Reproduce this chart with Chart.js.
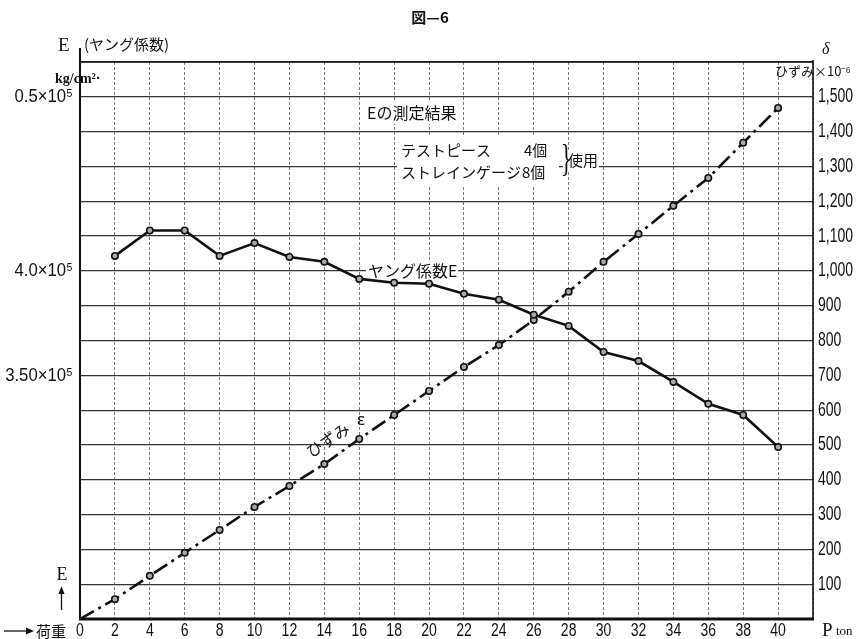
<!DOCTYPE html>
<html>
<head>
<meta charset="utf-8">
<script src="https://cdn.jsdelivr.net/npm/chart.js@4.4.1/dist/chart.umd.min.js"></script>
<style>
  html, body { margin: 0; padding: 0; background: #fff; }
  #wrap { width: 861px; height: 639px; position: relative; }
</style>
</head>
<body>
<div id="wrap"><canvas id="c" width="861" height="639"></canvas></div>
<script>
// Load P (ton)
const loadTon = [0, 2, 4, 6, 8, 10, 12, 14, 16, 18, 20, 22, 24, 26, 28, 30, 32, 34, 36, 38, 40];
// Young's modulus E (×10^5 kg/cm²), measured from 2 ton upward
const youngModulus = [null, 4.043, 4.116, 4.116, 4.043, 4.080, 4.040, 4.026, 3.977, 3.966,
                      3.963, 3.934, 3.917, 3.874, 3.842, 3.767, 3.741, 3.681, 3.618, 3.586, 3.494];
// Strain ε (×10^-6)
const strainMicro = [0, 57, 124, 190, 256, 322, 382, 445, 517, 586,
                     655, 724, 787, 859, 940, 1026, 1106, 1187, 1267, 1368, 1468];

// Tick labels
const xTickValues = [0, 2, 4, 6, 8, 10, 12, 14, 16, 18, 20, 22, 24, 26, 28, 30, 32, 34, 36, 38, 40];
const leftTickValues = [4.5, 4.0, 3.7];
const leftTickLabels = ['0.5×10⁵', '4.0×10⁵', '3.50×10⁵'];
const rightTickValues = [100, 200, 300, 400, 500, 600, 700, 800, 900, 1000, 1100, 1200, 1300, 1400, 1500];
const rightTickLabels = ['100', '200', '300', '400', '500', '600', '700', '800', '900',
                         '1,000', '1,100', '1,200', '1,300', '1,400', '1,500'];

const NUM_FONT = "'Liberation Sans','Noto Sans',sans-serif";
const JP_FONT = "'Noto Sans CJK JP',sans-serif";
const SERIF = "'Liberation Serif','DejaVu Serif',serif";
const INK = '#111';

const eData = loadTon.map((x, i) => ({ x, y: youngModulus[i] }));
const sData = loadTon.map((x, i) => ({ x, y: strainMicro[i] }));

function txt(ctx, s, x, y, font, align = 'left', base = 'middle') {
  ctx.font = font;
  ctx.textAlign = align;
  ctx.textBaseline = base;
  ctx.fillStyle = INK;
  ctx.fillText(s, x, y);
}

// condensed numerals, like the typewriter figures of the sheet
function narrow(ctx, s, x, y, size, sx, align) {
  ctx.save();
  ctx.translate(x, y);
  ctx.scale(sx, 1);
  txt(ctx, s, 0, 0, `${size}px ${NUM_FONT}`, align);
  ctx.restore();
}

// White patches behind the annotation texts (above the grid, below the curves)
const masks = {
  id: 'masks',
  beforeDatasetsDraw(chart) {
    const ctx = chart.ctx;
    ctx.save();
    ctx.fillStyle = '#fff';
    ctx.fillRect(365, 102, 96, 22);   // Eの測定結果
    ctx.fillRect(397, 137, 162, 48);  // test piece box
    ctx.fillRect(563, 150, 36, 20);   // 使用
    ctx.fillRect(366, 262, 92, 19);   // ヤング係数E
    ctx.restore();
  }
};

// Tick labels placed through the chart scales
const tickLabels = {
  id: 'tickLabels',
  afterDraw(chart) {
    const ctx = chart.ctx;
    const { x, yE, yS } = chart.scales;
    const a = chart.chartArea;
    xTickValues.forEach(v => narrow(ctx, String(v), x.getPixelForValue(v), a.bottom + 12, 18, 0.78, 'center'));
    leftTickValues.forEach((v, i) => narrow(ctx, leftTickLabels[i], a.left - 7, yE.getPixelForValue(v), 19, 0.88, 'right'));
    rightTickValues.forEach((v, i) => narrow(ctx, rightTickLabels[i], a.right + 5, yS.getPixelForValue(v), 20, 0.7, 'left'));
  }
};

// Frame lines and all the printed labels
const decor = {
  id: 'decor',
  afterDraw(chart) {
    const ctx = chart.ctx;
    const a = chart.chartArea;
    ctx.save();
    ctx.strokeStyle = INK;
    ctx.lineCap = 'butt';
    // top
    ctx.lineWidth = 1.6;
    ctx.beginPath(); ctx.moveTo(a.left, a.top); ctx.lineTo(a.right, a.top); ctx.stroke();
    // left
    ctx.lineWidth = 2;
    ctx.beginPath(); ctx.moveTo(a.left, a.top - 14); ctx.lineTo(a.left, a.bottom); ctx.stroke();
    // right
    ctx.lineWidth = 1.6;
    ctx.beginPath(); ctx.moveTo(a.right, a.top - 2); ctx.lineTo(a.right, a.bottom); ctx.stroke();
    // bottom
    ctx.lineWidth = 3;
    ctx.beginPath(); ctx.moveTo(a.left - 1, a.bottom); ctx.lineTo(a.right + 1, a.bottom); ctx.stroke();

    // title
    txt(ctx, '図—6', 430, 17, `bold 15px ${JP_FONT}`, 'center');

    // left axis heading
    txt(ctx, 'E', 58, 46, `19px ${SERIF}`);
    txt(ctx, '(ヤング係数)', 84, 44, `15px ${JP_FONT}`);
    txt(ctx, 'kg/cm²·', 55, 79, `bold 14px ${SERIF}`);

    // right axis heading
    txt(ctx, 'δ', 822, 50, `italic 16px ${SERIF}`);
    txt(ctx, 'ひずみ×10⁻⁶', 775, 71, `13px ${JP_FONT}`);

    // x axis heading
    txt(ctx, 'P', 822, 631, `19px ${SERIF}`);
    txt(ctx, 'ton', 836, 632, `13px ${SERIF}`);

    // load arrow
    ctx.lineWidth = 1.3;
    ctx.beginPath(); ctx.moveTo(4, 631); ctx.lineTo(28, 631); ctx.stroke();
    ctx.fillStyle = INK;
    ctx.beginPath(); ctx.moveTo(34, 631); ctx.lineTo(26, 627.5); ctx.lineTo(26, 634.5); ctx.closePath(); ctx.fill();
    txt(ctx, '荷重', 36, 631, `15px ${JP_FONT}`);

    // E arrow
    txt(ctx, 'E', 62, 575, `18px ${SERIF}`, 'center');
    ctx.beginPath(); ctx.moveTo(61.5, 610); ctx.lineTo(61.5, 592); ctx.stroke();
    ctx.beginPath(); ctx.moveTo(61.5, 586); ctx.lineTo(58.5, 594); ctx.lineTo(64.5, 594); ctx.closePath(); ctx.fill();

    // measurement note
    txt(ctx, 'Eの測定結果', 367, 113, `16px ${JP_FONT}`);
    txt(ctx, 'テストピース', 401, 150, `15px ${JP_FONT}`);
    txt(ctx, '4個', 524, 150, `15px ${JP_FONT}`);
    txt(ctx, 'ストレインゲージ', 401, 172, `15px ${JP_FONT}`);
    txt(ctx, '8個', 522, 172, `15px ${JP_FONT}`);
    ctx.save();
    ctx.translate(561, 161);
    ctx.scale(1, 1.7);
    txt(ctx, '}', 0, 0, `22px ${SERIF}`);
    ctx.restore();
    txt(ctx, '使用', 568, 160, `15px ${JP_FONT}`);

    // curve labels
    txt(ctx, 'ヤング係数E', 368, 271, `16px ${JP_FONT}`);
    ctx.save();
    ctx.translate(328, 440);
    ctx.rotate(-33.5 * Math.PI / 180);
    txt(ctx, 'ひずみ', -24, 0, `16px ${JP_FONT}`);
    ctx.restore();
    txt(ctx, 'ε', 361, 420, `17px 'Noto Sans',sans-serif`, 'center');

    ctx.restore();
  }
};

new Chart(document.getElementById('c'), {
  type: 'line',
  data: {
    datasets: [
      {
        label: 'ヤング係数E',
        data: eData,
        yAxisID: 'yE',
        borderColor: INK,
        borderWidth: 2.6,
        pointRadius: 3.2,
        pointBorderWidth: 1.6,
        pointBorderColor: INK,
        pointBackgroundColor: '#aaa',
        tension: 0,
        spanGaps: false
      },
      {
        label: 'ひずみ ε',
        data: sData,
        yAxisID: 'yS',
        borderColor: INK,
        borderWidth: 2.6,
        borderDash: [16, 5, 3, 5],
        pointRadius: loadTon.map(v => v === 0 ? 0 : 3.2),
        pointBorderWidth: 1.6,
        pointBorderColor: INK,
        pointBackgroundColor: '#aaa',
        tension: 0
      }
    ]
  },
  options: {
    responsive: false,
    animation: false,
    devicePixelRatio: 1,
    layout: { padding: { top: 62, left: 0, right: 0, bottom: 0 } },
    plugins: { legend: { display: false }, tooltip: { enabled: false } },
    scales: {
      x: {
        type: 'linear',
        position: 'bottom',
        min: 0,
        max: 42,
        afterFit(s) { s.height = 20; },
        ticks: { stepSize: 2, autoSkip: false, maxRotation: 0, display: false },
        grid: { color: '#777', lineWidth: 1, drawTicks: false },
        border: { display: false, dash: [3, 2] }
      },
      yE: {
        type: 'linear',
        position: 'left',
        min: 3.0,
        max: 4.6,
        afterFit(s) { s.width = 80; },
        ticks: { display: false },
        grid: { display: false, drawTicks: false },
        border: { display: false }
      },
      yS: {
        type: 'linear',
        position: 'right',
        min: 0,
        max: 1600,
        afterFit(s) { s.width = 48; },
        ticks: { stepSize: 100, display: false },
        grid: { color: '#333', lineWidth: 1.2, drawTicks: false },
        border: { display: false }
      }
    }
  },
  plugins: [masks, tickLabels, decor]
});
</script>
</body>
</html>
